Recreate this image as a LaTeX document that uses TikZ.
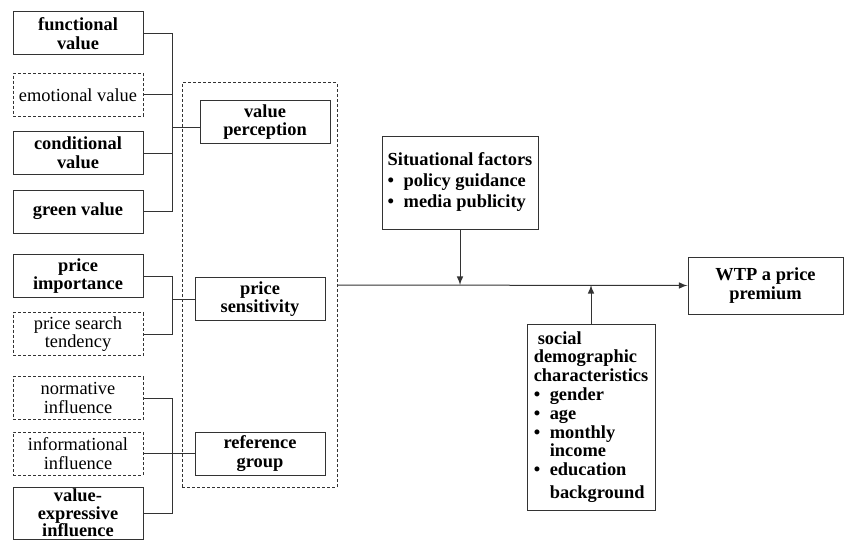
\documentclass[tikz,border=0pt]{standalone}
\usepackage{fontspec}
\setmainfont{Liberation Serif}
\tikzstyle{box}=[draw=black!80, line width=0.5pt, inner sep=0pt, align=center, font=\fontsize{9.2}{9.4}\selectfont\bfseries]
\tikzset{dashbox/.style={dash pattern=on 1.5pt off 1pt, font=\fontsize{9.2}{9.4}\selectfont}}
\tikzstyle{lbox}=[box, minimum width=65pt, minimum height=21.5pt]
\tikzstyle{link}=[draw=black!80, line width=0.5pt]
\newcommand{\itm}{\makebox[8pt][l]{\textbullet}}
\newcommand{\noitm}{\hspace*{8pt}}

\begin{document}
\begin{tikzpicture}[x=0.5pt,y=-0.5pt]
  \useasboundingbox (0,0) rectangle (844,540);
  %% value items
  \draw (78,33.5) node[lbox] (fv) {functional\\value};
  \draw (78,95) node[lbox,dashbox] (ev) {emotional value};
  \draw (78,153) node[lbox] (cv) {conditional\\value};
  \draw (78,211.5) node[lbox] (gv) {green value};
  %% price items
  \draw (78,276) node[lbox] (pi) {price\\importance};
  \draw (78,334) node[lbox,dashbox] (ps) {price search\\tendency};
  %% group items
  \draw (78,398) node[lbox,dashbox] (ni) {normative\\influence};
  \draw (78,453.5) node[lbox,dashbox] (ii) {informational\\influence};
  \draw (78,513) node[lbox,minimum height=26pt,font=\fontsize{9.2}{8.8}\selectfont\bfseries] (ve) {value-\\expressive\\influence};

  %% middle column
  \draw (259.5,285) node[box,dashbox,minimum width=77.5pt,minimum height=202pt] (grp) {};
  \draw (265,122) node[lbox] (vp) {value\\perception};
  \draw (260,299) node[lbox] (psn) {price\\sensitivity};
  \draw (260,453.5) node[lbox] (rg) {reference\\group};

  %% right side
  \draw (460,182.5) node[box,align=left,minimum width=78pt,minimum height=46.5pt,font=\fontsize{9.2}{10.5}\selectfont\bfseries] (sit)
    {Situational factors\\\itm policy guidance\\\itm media publicity};
  \draw (765.5,285.5) node[box,minimum width=77.5pt,minimum height=28.5pt] (wtp) {WTP a price\\premium};
  \draw (591,417) node[box,align=left,minimum width=64pt,minimum height=93pt] (soc)
    {\hspace*{2pt}social\\demographic\\characteristics\\\itm gender\\\itm age\\\itm monthly\\\noitm income\\\itm education\\[2pt]\noitm background};

  \coordinate (b1) at (172,127);
  \coordinate (b2) at (172,299);
  \coordinate (b3) at (172,453.5);
  \coordinate (j1) at (460,285);
  \coordinate (j2) at (591,285);

  %% brackets
  \draw[link] (fv.east) -- (fv.east -| b1) -- (gv.east -| b1) -- (gv.east);
  \draw[link] (ev.east) -- (ev.east -| b1);
  \draw[link] (cv.east) -- (cv.east -| b1);
  \draw[link] (b1) -- (b1 -| vp.west);

  \draw[link] (pi.east) -- (pi.east -| b2) -- (ps.east -| b2) -- (ps.east);
  \draw[link] (b2) -- (b2 -| psn.west);

  \draw[link] (ni.east) -- (ni.east -| b3) -- (ve.east -| b3) -- (ve.east);
  \draw[link] (ii.east) -- (rg.west);

  %% arrows
  \draw[-latex,link] (grp.east) -- (wtp.west);
  \draw[-latex,link] (sit.south) -- (j1);
  \draw[-latex,link] (soc.north) -- (j2);
\end{tikzpicture}
\end{document}
